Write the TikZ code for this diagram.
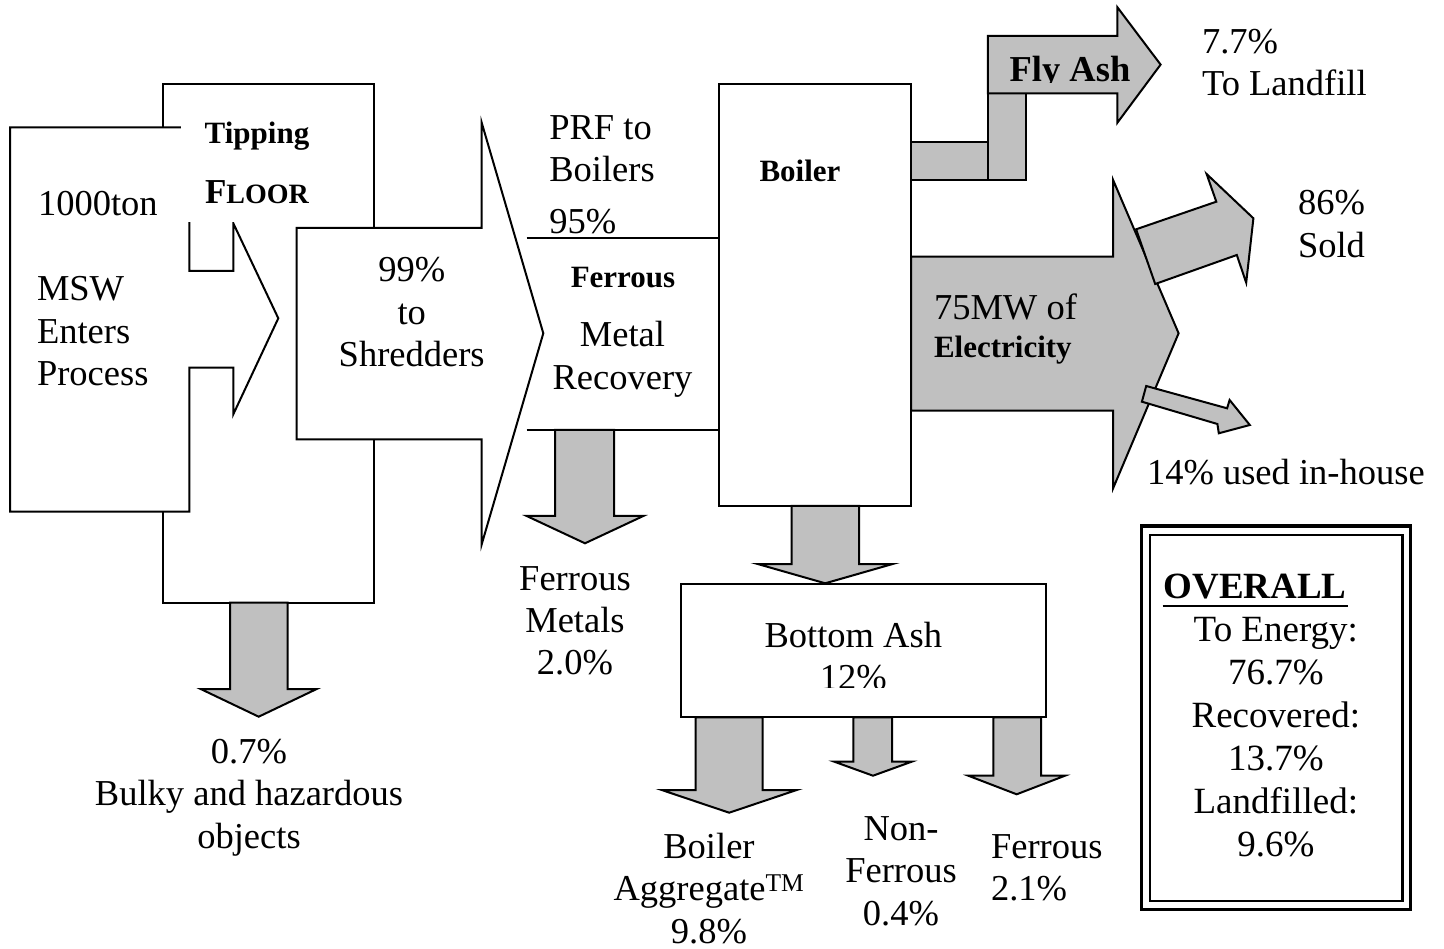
\documentclass[tikz,border=0pt]{standalone}
\usepackage{fontspec}
\setmainfont{Liberation Serif}
\definecolor{ashgrey}{HTML}{C0C0C0}

% stacked lines, baseline on the first line
\newcommand{\cstack}[1]{\begin{tabular}[t]{@{}c@{}}#1\end{tabular}}
\newcommand{\lstack}[1]{\begin{tabular}[t]{@{}l@{}}#1\end{tabular}}
% grey down arrow: shaft x1, shaft x2, top, neck, head x1, head x2, tip
\newcommand{\flowdown}[7]{%
  \draw[ashflow] (#1,#3) -- (#1,#4) -- (#5,#4) -- ({(#5+#6)/2},#7)
    -- (#6,#4) -- (#2,#4) -- (#2,#3) -- cycle;}

\begin{document}
\begin{tikzpicture}[
    x=1pt, y=-1pt,
    line width=2pt,
    txt/.style={inner sep=0pt, font=\fontsize{36.5}{42.5}\selectfont},
    lbl/.style={inner sep=0pt, font=\fontsize{31}{40}\selectfont\bfseries},
    bigbold/.style={inner sep=0pt, font=\fontsize{36.5}{42.5}\selectfont\bfseries},
    stagebox/.style={draw, fill=white, inner sep=0pt, outer sep=0pt, anchor=north west},
    stagearrow/.style={draw, fill=white},
    ashflow/.style={draw, fill=ashgrey}
]
\useasboundingbox (0,0) rectangle (1444,949);
\fill[white] (0,0) rectangle (1444,949);

% tipping floor and the incoming MSW
\node[stagebox, minimum width=211.5pt, minimum height=518.7pt] (tipfloor) at (162.5,84) {};
\draw[stagearrow] (10,127.3) -- (189.3,127.3) -- (189.3,271) -- (233.3,271) -- (233.3,223.3)
    -- (278.3,318.3) -- (233.3,414.3) -- (233.3,367.7) -- (189.3,367.7) -- (189.3,511.7)
    -- (10,511.7) -- cycle;
\node[fill=white, inner sep=0pt, minimum width=165pt, minimum height=116pt, anchor=north west] (tipbox) at (180,105) {};
\node[lbl, anchor=base] (tipping) at (257,144) {Tipping};
\node[lbl, anchor=base] (floor) at (257,204) {\fontsize{35}{40}\selectfont F\fontsize{28}{40}\selectfont LOOR};
\node[txt, anchor=base west] (tons) at (37,215.7) {1000ton};
\node[txt, anchor=base west] (msw) at (36,301) {\lstack{MSW\\Enters\\Process}};

% shredders
\draw[stagearrow] (296.7,227.9) -- (481.7,227.9) -- (481.7,122.7) -- (543.3,333.3)
    -- (481.7,544.3) -- (481.7,439.3) -- (296.7,439.3) -- cycle;
\node[txt, anchor=base] (shred) at (411.7,281.7) {\cstack{99\%\\to\\Shredders}};

% boiler and ferrous recovery
\node[stagebox, minimum width=192pt, minimum height=421.7pt] (boiler) at (719,84.3) {};
\coordinate (prftop) at (526.7,237.7);
\coordinate (prfbot) at (526.7,430);
\draw (prftop) -- (prftop -| boiler.west);
\draw (prfbot) -- (prfbot -| boiler.west);
\node[txt, anchor=base west] (prf) at (548.3,139.3) {\lstack{PRF to\\Boilers}};
\node[txt, anchor=base west] (prfpct) at (548.3,233.8) {95\%};
\node[lbl, anchor=base] (ferrlbl) at (623,287.3) {Ferrous};
\node[txt, anchor=base] (metal) at (622.5,346.7) {\cstack{Metal\\Recovery}};
\node[lbl, anchor=base] (boilerlbl) at (800,181.7) {Boiler};

% fly ash
\draw[ashflow] (911,142) rectangle (987.9,180);
\draw[ashflow] (987.9,93.3) rectangle (1026.4,180);
\draw[ashflow] (987.9,36) -- (1117.4,36) -- (1117.4,7.3) -- (1160.6,64.6)
    -- (1117.4,122.7) -- (1117.4,93.3) -- (987.9,93.3) -- cycle;
\begin{scope}
  \clip (990,20) rectangle (1150,82.5);
  \node[bigbold, anchor=base] (flyash) at (1070,81.5) {Fly Ash};
\end{scope}
\node[txt, anchor=base west] (landfill) at (1201,53.3) {\lstack{7.7\%\\To Landfill}};

% electricity
\draw[ashflow] (911,256.7) -- (1113.1,256.7) -- (1113.1,180) -- (1178.6,333.3)
    -- (1113.1,488.3) -- (1113.1,410.7) -- (911,410.7) -- cycle;
\draw[ashflow] (1136.1,229.3) -- (1216.3,201.7) -- (1206.6,174) -- (1253.4,218.3)
    -- (1246.2,282.7) -- (1236.8,255) -- (1155.2,284) -- cycle;
\draw[ashflow] (1146.2,386) -- (1227.1,408.3) -- (1229.6,400) -- (1249.8,425)
    -- (1218.8,433.3) -- (1217.4,424) -- (1141.9,401.7) -- cycle;
\node[txt, anchor=base west] (mw) at (933,320) {75MW of};
\node[lbl, anchor=base west] (elec) at (933,358) {Electricity};
\node[txt, anchor=base west] (sold) at (1297,215) {\lstack{86\%\\Sold}};
\node[txt, anchor=base west] (inhouse) at (1146,485) {14\% used in-house};

% bottom ash
\node[stagebox, minimum width=365pt, minimum height=133.8pt] (bottomash) at (681,583.5) {};
\begin{scope}
  \clip (690,600) rectangle (1040,687.3);
  \node[txt, anchor=base] (ashlbl) at (853.3,647.3) {\cstack{Bottom Ash\\12\%}};
\end{scope}

% grey outflows
\flowdown{230}{287.7}{602.7}{689}{200.7}{316.7}{716.7}
\flowdown{555}{614}{430}{516}{526.7}{643.3}{543.3}
\flowdown{791.7}{859}{506}{564}{757.7}{892.7}{583.3}
\flowdown{695.7}{762.7}{717.3}{790}{661.7}{796.7}{812.7}
\flowdown{853.3}{892}{717.3}{761.7}{834.3}{911.7}{775.7}
\flowdown{993.3}{1041}{717.3}{775.7}{968.3}{1065}{794.3}

\node[txt, anchor=base] (bulky) at (249,763.3) {\cstack{0.7\%\\Bulky and hazardous\\objects}};
\node[txt, anchor=base] (ferrmet) at (575,590) {\cstack{Ferrous\\Metals\\2.0\%}};
\node[txt, anchor=base] (aggr) at (709,858.3) {\cstack{Boiler\\Aggregate\textsuperscript{TM}\\9.8\%}};
\node[txt, anchor=base] (nonfe) at (901,840) {\cstack{Non-\\Ferrous\\0.4\%}};
\node[txt, anchor=base west] (fe) at (990,858.3) {\lstack{Ferrous\\2.1\%}};

% overall summary
\draw[line width=3.5pt] (1141.3,526) rectangle (1410.7,909.7);
\draw[line width=2.5pt] (1150,535) rectangle (1402.3,901);
\node[inner sep=0pt, font=\fontsize{37}{43}\selectfont\bfseries, anchor=base west] (overall) at (1162.7,598.3) {OVERALL};
\draw[line width=2.5pt] ([yshift=-7.5pt]overall.base west) -- ([yshift=-7.5pt]overall.base east);
\node[inner sep=0pt, font=\fontsize{37}{43}\selectfont, anchor=base] (totals) at (1275.8,641.7)
    {\cstack{To Energy:\\76.7\%\\Recovered:\\13.7\%\\Landfilled:\\9.6\%}};

\end{tikzpicture}
\end{document}
